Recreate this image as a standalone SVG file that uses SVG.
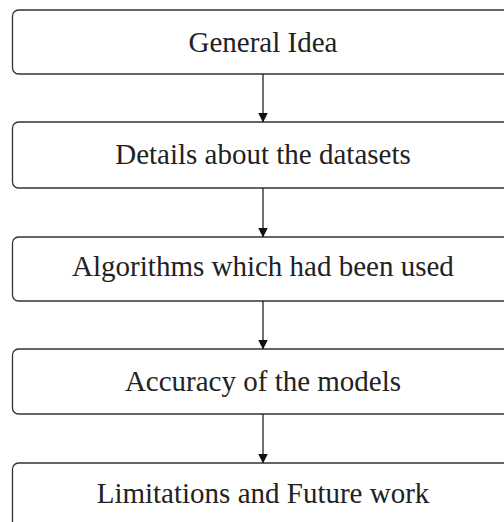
<svg xmlns="http://www.w3.org/2000/svg" width="504" height="522" viewBox="0 0 504 522">
<style>
.box{fill:#ffffff;stroke:#333333;stroke-width:1.3}
.lbl{font-family:'Liberation Serif','Times New Roman',Tinos,'DejaVu Serif',serif;font-size:29px;fill:#222222;text-anchor:middle}
.conn{stroke:#222222;stroke-width:1.3;fill:none}
</style>
<defs>
<marker id="ah" markerWidth="10" markerHeight="10" refX="9" refY="5" orient="auto" markerUnits="userSpaceOnUse">
<path d="M0,0 L10,5 L0,10 Z" fill="#111111"/>
</marker>
</defs>
<rect width="504" height="522" fill="#ffffff"/>
<g id="n1"><rect class="box" x="12.5" y="10" width="501" height="64" rx="6"/><text class="lbl" font-family="Liberation Serif" x="263" y="52">General Idea</text></g>
<g id="n2"><rect class="box" x="12.5" y="122" width="501" height="66" rx="6"/><text class="lbl" font-family="Liberation Serif" x="263" y="164">Details about the datasets</text></g>
<g id="n3"><rect class="box" x="12.5" y="237" width="501" height="64" rx="6"/><text class="lbl" font-family="Liberation Serif" x="263" y="276">Algorithms which had been used</text></g>
<g id="n4"><rect class="box" x="12.5" y="349" width="501" height="65" rx="6"/><text class="lbl" font-family="Liberation Serif" x="263" y="391">Accuracy of the models</text></g>
<g id="n5"><rect class="box" x="12.5" y="463" width="501" height="70" rx="6"/><text class="lbl" font-family="Liberation Serif" x="263" y="503">Limitations and Future work</text></g>
<g id="connectors">
<line class="conn" x1="263" y1="74" x2="263" y2="121.5" marker-end="url(#ah)"/>
<line class="conn" x1="263" y1="188" x2="263" y2="236.5" marker-end="url(#ah)"/>
<line class="conn" x1="263" y1="301" x2="263" y2="348.5" marker-end="url(#ah)"/>
<line class="conn" x1="263" y1="414" x2="263" y2="462.5" marker-end="url(#ah)"/>
</g>
</svg>
